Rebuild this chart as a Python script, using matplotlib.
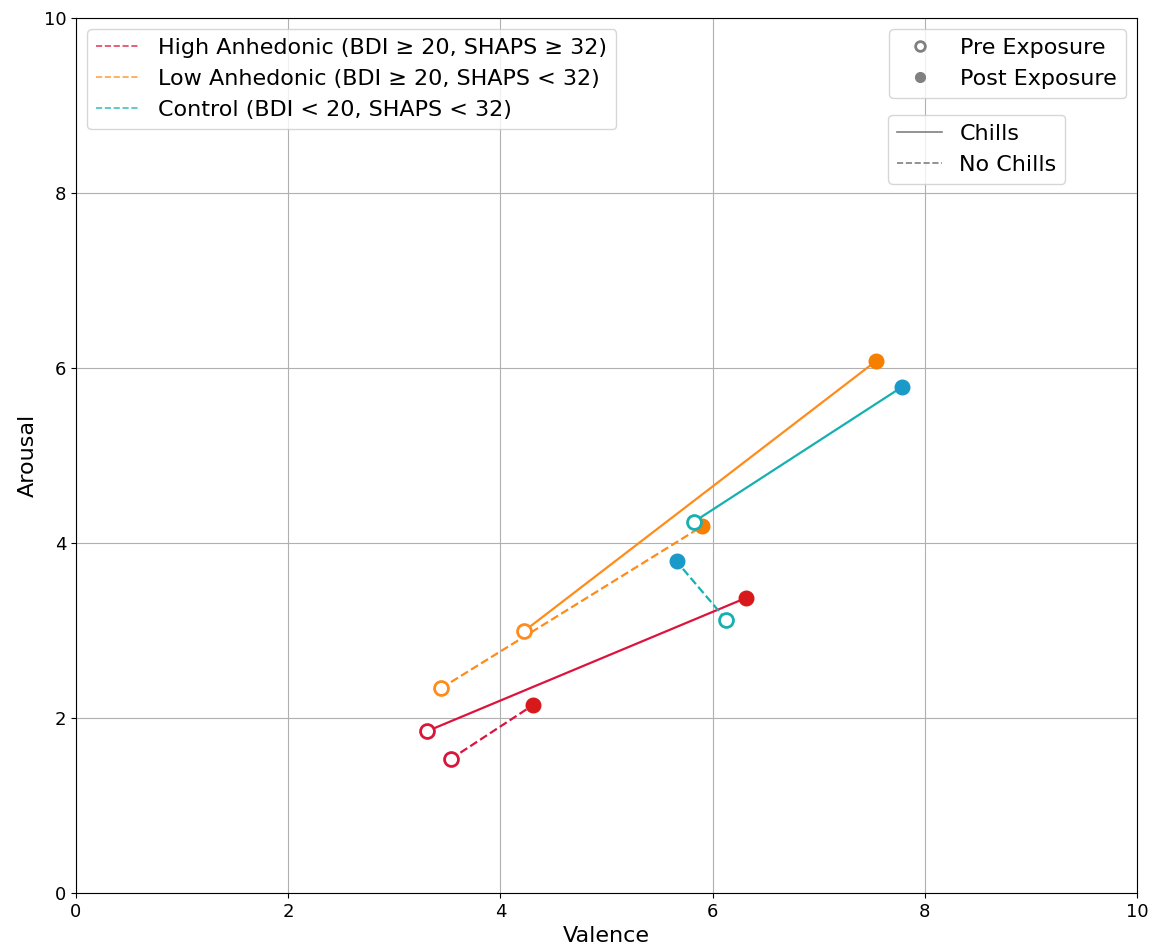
import matplotlib
matplotlib.use("Agg")
import matplotlib.pyplot as plt
from matplotlib.lines import Line2D

# group labels and colours
groups = [
    "High Anhedonic (BDI ≥ 20, SHAPS ≥ 32)",
    "Low Anhedonic (BDI ≥ 20, SHAPS < 32)",
    "Control (BDI < 20, SHAPS < 32)",
]
line_colors = ["#dc143c", "#ff8c1a", "#17b0b0"]
post_colors = ["#d7191c", "#f77f00", "#1a9ac9"]

# (valence, arousal) pre -> post, chills / no chills
chills_pre_val = [3.31, 4.22, 5.82]
chills_pre_aro = [1.85, 2.99, 4.24]
chills_post_val = [6.31, 7.54, 7.78]
chills_post_aro = [3.37, 6.08, 5.78]

nochills_pre_val = [3.53, 3.44, 6.13]
nochills_pre_aro = [1.53, 2.34, 3.12]
nochills_post_val = [4.31, 5.90, 5.66]
nochills_post_aro = [2.15, 4.19, 3.79]

fig = plt.figure(figsize=(11.53, 9.49), dpi=100)
ax = fig.add_axes([0.0659, 0.059, 0.9203, 0.922])

for i in range(len(groups)):
    for pv, pa, qv, qa, ls in [
        (chills_pre_val, chills_pre_aro, chills_post_val, chills_post_aro, "-"),
        (nochills_pre_val, nochills_pre_aro, nochills_post_val, nochills_post_aro, "--"),
    ]:
        ax.plot([pv[i], qv[i]], [pa[i], qa[i]], ls=ls, color=line_colors[i], lw=1.6, zorder=2)
        ax.plot(pv[i], pa[i], "o", ms=10, mfc="white", mec=line_colors[i], mew=2, zorder=3)
        ax.plot(qv[i], qa[i], "o", ms=10.5, mfc=post_colors[i], mec=post_colors[i], zorder=3)

ax.set_xlim(0, 10)
ax.set_ylim(0, 10)
ax.grid(True, color="#b0b0b0", lw=0.8)
ax.set_axisbelow(True)
ax.tick_params(labelsize=13)
ax.set_xlabel("Valence", fontsize=16)
ax.set_ylabel("Arousal", fontsize=16)

group_handles = [Line2D([0], [0], color=c, ls="--", lw=1.2, alpha=0.8) for c in line_colors]
leg1 = ax.legend(group_handles, groups, loc="upper left", fontsize=16, framealpha=0.8)
ax.add_artist(leg1)

marker_handles = [
    Line2D([0], [0], marker="o", ls="none", ms=7, mfc="white", mec="grey", mew=2),
    Line2D([0], [0], marker="o", ls="none", ms=7, mfc="grey", mec="grey"),
]
leg2 = ax.legend(marker_handles, ["Pre Exposure", "Post Exposure"], loc="upper right",
                 fontsize=16, framealpha=0.8)
ax.add_artist(leg2)

style_handles = [
    Line2D([0], [0], color="grey", ls="-", lw=1.2),
    Line2D([0], [0], color="grey", ls="--", lw=1.2),
]
ax.legend(style_handles, ["Chills", "No Chills"], loc="upper right",
          bbox_to_anchor=(0.943, 0.902), fontsize=16, framealpha=0.8)

fig.savefig("out.png", dpi=100)
